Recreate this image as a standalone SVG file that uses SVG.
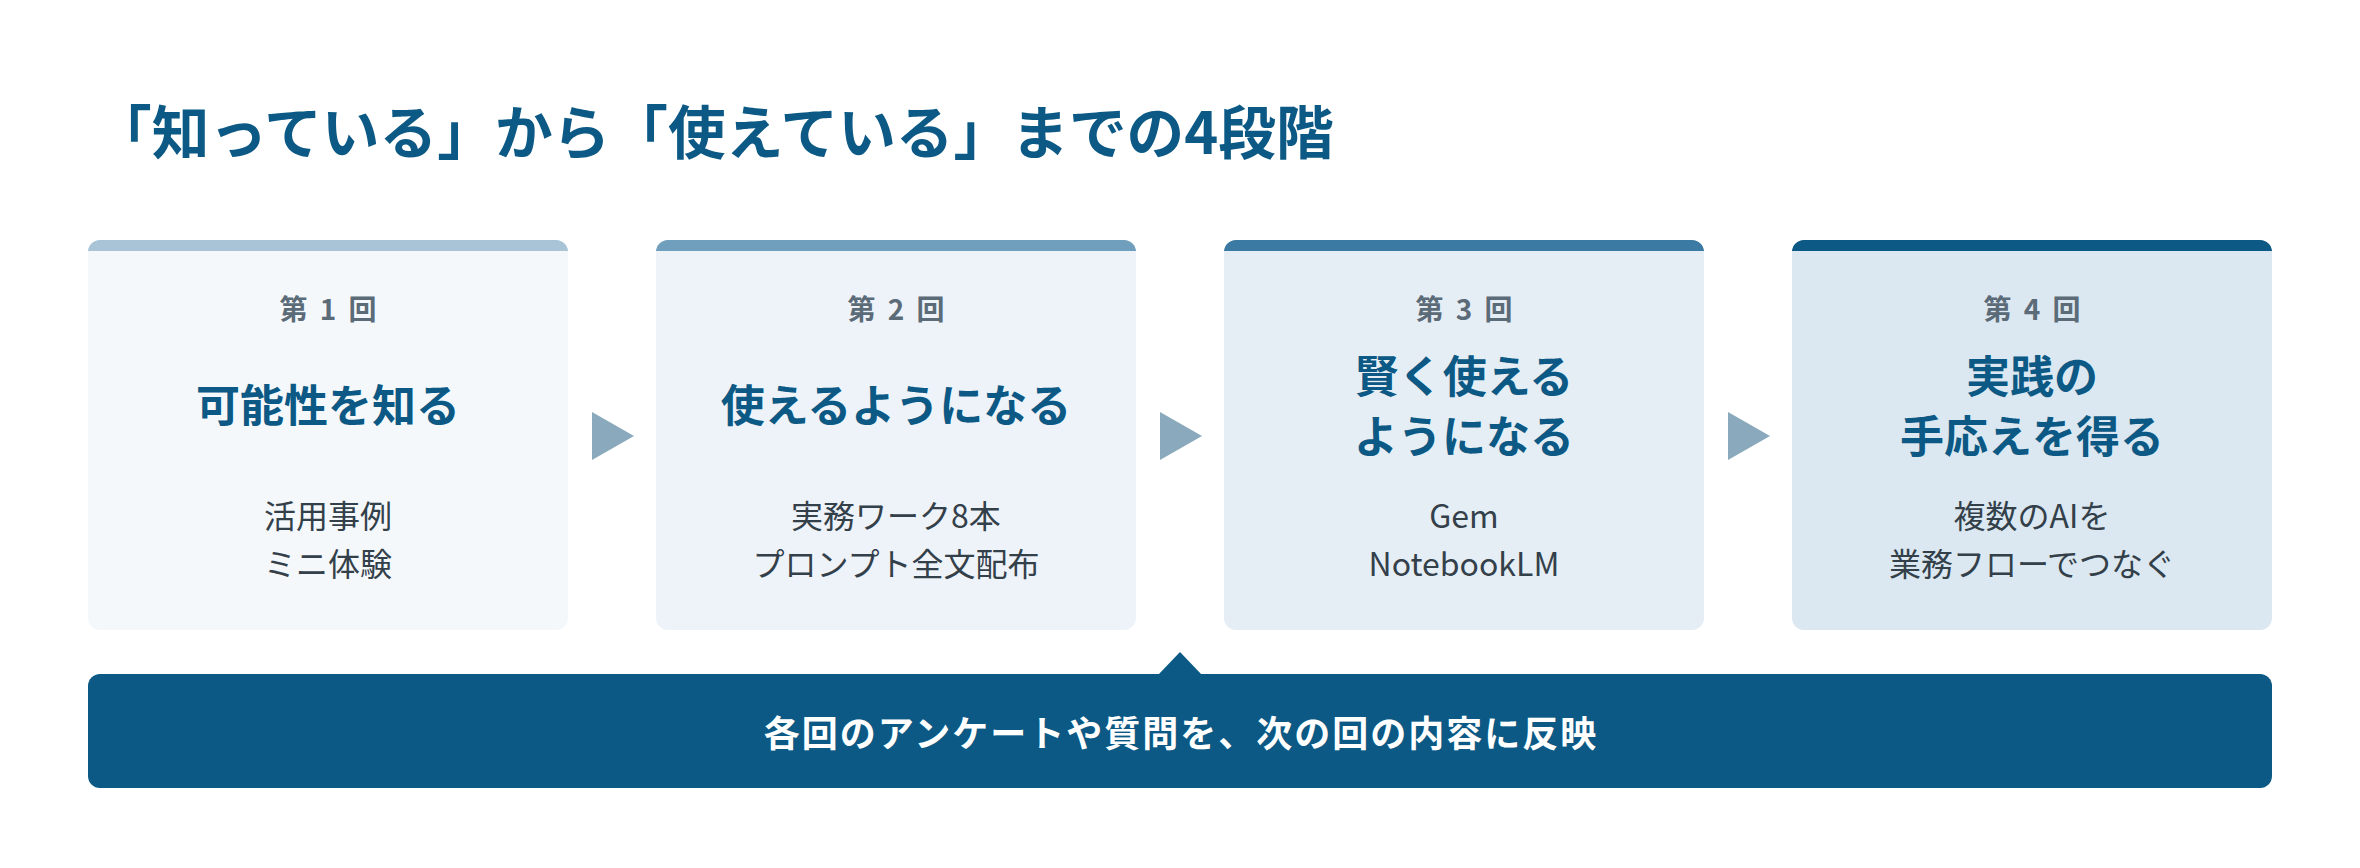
<svg xmlns="http://www.w3.org/2000/svg" width="2360" height="868" viewBox="0 0 2360 868">
<style>
text{font-family:"Noto Sans CJK JP","Noto Sans",sans-serif;text-anchor:middle}
.title{font-size:57.7px;font-weight:700;fill:#0b5984;text-anchor:start}
.num{font-size:28px;font-weight:700;fill:#5b6b78;letter-spacing:3px}
.head{font-size:44px;font-weight:700;fill:#0b5984}
.sub{font-size:32px;font-weight:400;fill:#33404a}
.band{font-size:36px;font-weight:700;fill:#ffffff;letter-spacing:2px}
.arrow{fill:#8aa9bd}
</style>
<rect width="2360" height="868" fill="#ffffff"/>
<text class="title" x="94" y="154">「知っている」から「使えている」までの4段階</text>

<g id="card1">
<rect x="88" y="240" width="480" height="390" rx="12" fill="#f4f8fb"/>
<path d="M88 251V252a12 12 0 0 1 12-12H556a12 12 0 0 1 12 12V251Z" fill="#a9c4d7"/>
<text class="num" x="329.5" y="320">第 1 回</text>
<text class="head" x="328" y="422">可能性を知る</text>
<text class="sub" x="328" y="528">活用事例</text>
<text class="sub" x="328" y="576">ミニ体験</text>
</g>

<g id="card2">
<rect x="656" y="240" width="480" height="390" rx="12" fill="#eef3f9"/>
<path d="M656 251V252a12 12 0 0 1 12-12H1124a12 12 0 0 1 12 12V251Z" fill="#6f9fbd"/>
<text class="num" x="897.5" y="320">第 2 回</text>
<text class="head" x="896" y="422">使えるようになる</text>
<text class="sub" x="896" y="528">実務ワーク8本</text>
<text class="sub" x="896" y="576">プロンプト全文配布</text>
</g>

<g id="card3">
<rect x="1224" y="240" width="480" height="390" rx="12" fill="#e6eef5"/>
<path d="M1224 251V252a12 12 0 0 1 12-12H1692a12 12 0 0 1 12 12V251Z" fill="#3b7ba3"/>
<text class="num" x="1465.5" y="320">第 3 回</text>
<text class="head" x="1464" y="393">賢く使える</text>
<text class="head" x="1464" y="453">ようになる</text>
<text class="sub" x="1464" y="528">Gem</text>
<text class="sub" x="1464" y="576">NotebookLM</text>
</g>

<g id="card4">
<rect x="1792" y="240" width="480" height="390" rx="12" fill="#dbe8f1"/>
<path d="M1792 251V252a12 12 0 0 1 12-12H2260a12 12 0 0 1 12 12V251Z" fill="#0b5984"/>
<text class="num" x="2033.5" y="320">第 4 回</text>
<text class="head" x="2032" y="393">実践の</text>
<text class="head" x="2032" y="453">手応えを得る</text>
<text class="sub" x="2032" y="528">複数のAIを</text>
<text class="sub" x="2032" y="576">業務フローでつなぐ</text>
</g>

<g id="connectors">
<polygon class="arrow" points="592,412 634,436 592,460"/>
<polygon class="arrow" points="1160,412 1202,436 1160,460"/>
<polygon class="arrow" points="1728,412 1770,436 1728,460"/>
</g>

<g id="feedback">
<polygon points="1158,675 1180,652 1202,675" fill="#0b5984"/>
<rect x="88" y="674" width="2184" height="114" rx="12" fill="#0b5984"/>
<text class="band" x="1181" y="747">各回のアンケートや質問を、次の回の内容に反映</text>
</g>
</svg>
